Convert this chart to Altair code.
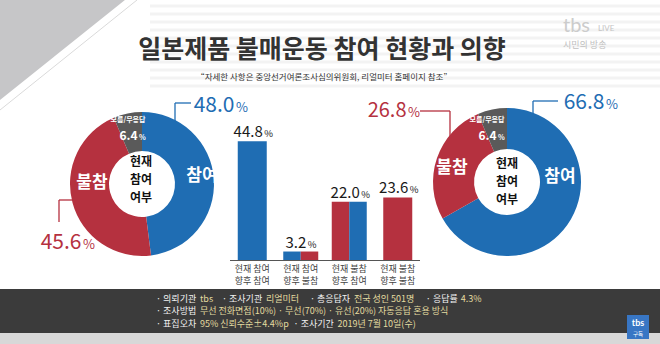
import altair as alt
import pandas as pd

FONT = "Noto Sans CJK KR"
BLUE = "#1f6db3"
RED = "#b5313f"
GRAY = "#5a5a5a"
YELLOW = "#e4dba0"

# ---------------- data ----------------
title_text = "일본제품 불매운동 참여 현황과 의향"
subtitle_text = "\u201c자세한 사항은 중앙선거여론조사심의위원회, 리얼미터 홈페이지 참조\u201d"

donut_cats = ["참여", "불참", "모름/무응답"]
donut_center = ["현재", "참여", "여부"]
left_vals = [48.0, 45.6, 6.4]     # 현재 참여 여부
right_vals = [66.8, 26.8, 6.4]    # 향후 참여 의향

bar_cats = ["현재 참여\n향후 참여", "현재 참여\n향후 불참", "현재 불참\n향후 참여", "현재 불참\n향후 불참"]
bar_vals = [44.8, 3.2, 22.0, 23.6]
bar_now = ["참여", "참여", "불참", "불참"]      # colour of left half
bar_future = ["참여", "불참", "참여", "불참"]   # colour of right half
bar_split = [False, True, True, False]

footer_lines = [
    [("· 의뢰기관", "w"), ("tbs", "y"), ("· 조사기관", "w"), ("리얼미터", "y"),
     ("· 총응답자", "w"), ("전국 성인 501명", "y"), ("· 응답률", "w"), ("4.3%", "y")],
    [("· 조사방법", "w"), ("무선 전화면접(10%) · 무선(70%) · 유선(20%) 자동응답 혼용 방식", "y")],
    [("· 표집오차", "w"), ("95% 신뢰수준±4.4%p", "y"), ("· 조사기간", "w"), ("2019년 7월 10일(수)", "y")],
]

# ---------------- helpers ----------------
base = alt.Chart(pd.DataFrame({"k": [0]}))


def txt(text, x, y, size, color, weight="normal", align="center", baseline="middle", font=FONT, **kw):
    return base.mark_text(text=text, fontSize=size, color=color, fontWeight=weight, align=align,
                          baseline=baseline, font=font, **kw).encode(x=alt.value(x), y=alt.value(y))


def rule(x1, y1, x2, y2, color, w=1.3, **kw):
    return base.mark_rule(color=color, strokeWidth=w, **kw).encode(
        x=alt.value(x1), y=alt.value(y1), x2=alt.value(x2), y2=alt.value(y2))


def rect(x1, y1, x2, y2, color):
    return base.mark_rect(color=color).encode(
        x=alt.value(x1), y=alt.value(y1), x2=alt.value(x2), y2=alt.value(y2))


def tw(s, size):
    w = 0.0
    for ch in s:
        if "\uac00" <= ch <= "\ud7a3":
            w += 1.0
        elif ch.isdigit():
            w += 0.553
        elif ch == " ":
            w += 0.224
        elif ch in ".,·":
            w += 0.27
        elif ch == "%":
            w += 0.87
        elif ch in "()":
            w += 0.33
        elif ch == "±":
            w += 0.55
        else:
            w += 0.52
    return w * size


cscale = alt.Scale(domain=donut_cats, range=[BLUE, RED, GRAY])

layers = []

# background decoration: gray triangle top-left
layers.append(rule(-159.3, 124.9, 309.3, -249.9, "#c6c6c8", w=160, clip=True))
layers.append(rule(137, 0, 0, 110, "#dadada", w=1, clip=True))
for yy in [6, 14, 22, 30, 38, 46, 54, 62, 70, 78, 86]:
    layers.append(rule(150, yy, 660, yy, "#f3f3f3", w=3, clip=True))

# title
layers.append(txt(title_text, 322, 50, 25, "#333333", weight="bold"))
layers.append(txt(subtitle_text, 324, 77, 8.5, "#333333"))

# tbs logo
layers.append(txt("tbs", 563, 26, 20, "#cccccc", align="left", font="Lato"))
layers.append(txt("LIVE", 598, 29, 8, "#c4c4c4", align="left", font="Lato"))
layers.append(txt("시민의 방송", 563, 45, 9, "#c0c0c0", align="left"))

# leader lines (drawn under donuts)
layers += [
    rule(175, 103, 175, 124, BLUE), rule(175, 103, 191, 103, BLUE),
    rule(76, 200, 59, 200, RED), rule(59, 200, 59, 222, RED),
    rule(533, 101, 533, 119, BLUE), rule(533, 101, 558, 101, BLUE),
    rule(420, 111, 450, 111, RED), rule(450, 111, 450, 141, RED),
]


def donut(vals, cx, cy, r_out, r_in):
    df = pd.DataFrame({"cat": donut_cats, "v": vals, "o": [0, 1, 2]})
    return alt.Chart(df).mark_arc(radius=r_out, radius2=r_in).encode(
        theta=alt.Theta("v:Q", stack=True),
        color=alt.Color("cat:N", scale=cscale, legend=None),
        order=alt.Order("o:Q"),
        x=alt.value(cx), y=alt.value(cy),
    )


layers.append(donut(left_vals, 142, 184, 72, 33))
layers.append(donut(right_vals, 507, 182, 74, 33))

# donut labels - left
layers += [
    txt(donut_cats[0], 202, 176, 17, "white", weight="bold"),
    txt(donut_cats[1], 92, 183, 17, "white", weight="bold"),
    txt(donut_cats[2], 128, 120, 7, "white", weight="bold"),
    txt(f"{left_vals[2]:.1f}", 137.5, 140, 12, "white", weight="bold", align="right", baseline="alphabetic"),
    txt("%", 139, 140, 7, "white", weight="bold", align="left", baseline="alphabetic"),
    txt(f"{left_vals[0]:.1f}", 234.5, 112, 21, BLUE, align="right", baseline="alphabetic"),
    txt("%", 236, 112, 13, BLUE, align="left", baseline="alphabetic"),
    txt(f"{left_vals[1]:.1f}", 81.5, 249, 21, RED, align="right", baseline="alphabetic"),
    txt("%", 83, 249, 13, RED, align="left", baseline="alphabetic"),
]
for s, yy in zip(donut_center, [162, 180, 198]):
    layers.append(txt(s, 141, yy, 12, "#111111", weight="bold"))
# donut labels - right
layers += [
    txt(donut_cats[0], 560, 177, 17, "white", weight="bold"),
    txt(donut_cats[1], 452, 168, 17, "white", weight="bold"),
    txt(donut_cats[2], 487, 120, 7, "white", weight="bold"),
    txt(f"{right_vals[2]:.1f}", 496.5, 140, 12, "white", weight="bold", align="right", baseline="alphabetic"),
    txt("%", 498, 140, 7, "white", weight="bold", align="left", baseline="alphabetic"),
    txt(f"{right_vals[0]:.1f}", 604.5, 109, 21, BLUE, align="right", baseline="alphabetic"),
    txt("%", 606, 109, 13, BLUE, align="left", baseline="alphabetic"),
    txt(f"{right_vals[1]:.1f}", 406.5, 117, 20, RED, align="right", baseline="alphabetic"),
    txt("%", 408, 117, 13, RED, align="left", baseline="alphabetic"),
]
for s, yy in zip(donut_center, [164, 182, 200]):
    layers.append(txt(s, 507, yy, 12, "#111111", weight="bold"))

# bars
bars_df = pd.DataFrame({"cat": bar_cats, "v": bar_vals, "lc": bar_now, "rc": bar_future,
                        "split": bar_split,
                        "l1": [c.split("\n")[0] for c in bar_cats],
                        "l2": [c.split("\n")[1] for c in bar_cats]})
xsc = alt.Scale(domain=bar_cats, range=[228, 422], paddingInner=0.28, paddingOuter=0.14)
ysc = alt.Scale(domain=[0, 50], range=[260, 127.5])
X = alt.X("cat:N", scale=xsc, axis=None, sort=bar_cats)
Y = alt.Y("v:Q", scale=ysc, axis=None)

layers.append(alt.Chart(bars_df).transform_filter("!datum.split").mark_bar(width=29).encode(
    X, Y, color=alt.Color("lc:N", scale=cscale, legend=None)))
layers.append(alt.Chart(bars_df).transform_filter("datum.split").mark_bar(width=17.5, xOffset=-8.75).encode(
    X, Y, color=alt.Color("lc:N", scale=cscale, legend=None)))
layers.append(alt.Chart(bars_df).transform_filter("datum.split").mark_bar(width=17.5, xOffset=8.75).encode(
    X, Y, color=alt.Color("rc:N", scale=cscale, legend=None)))

layers.append(rule(230, 260.5, 420, 260.5, "#555555", w=1))

for cond, off in [("datum.v >= 10", 10.5), ("datum.v < 10", 5.5)]:
    layers.append(alt.Chart(bars_df).transform_filter(cond).mark_text(
        align="right", baseline="alphabetic", dx=off, dy=-4, fontSize=15, font=FONT, color="#1a1a1a").encode(
        X, Y, text=alt.Text("v:Q", format=".1f")))
    layers.append(alt.Chart(bars_df).transform_filter(cond).mark_text(
        align="left", baseline="alphabetic", dx=off + 1.5, dy=-4, fontSize=9.5, font=FONT, color="#1a1a1a",
        text="%").encode(X, Y))

for fld, yy in [("l1", 269), ("l2", 280.5)]:
    layers.append(alt.Chart(bars_df).mark_text(
        baseline="middle", fontSize=9, font=FONT, color="#444444").encode(
        X, y=alt.value(yy), text=f"{fld}:N"))

# footer
layers.append(rect(0, 289, 660, 333, "#3b3b3b"))
layers.append(rect(0, 333, 660, 344, "#d8d8d8"))
FS = 9.0
for i, line in enumerate(footer_lines):
    y = [298.5, 311, 323.5][i]
    x = 156
    for s, kind in line:
        layers.append(txt(s, x, y, FS, "#f2f2f2" if kind == "w" else YELLOW, align="left"))
        x += tw(s, FS) + (3.5 if kind == "w" else 8)

layers.append(rect(627, 315, 649, 339, "#3876c4"))
layers.append(txt("tbs", 638, 322.5, 9, "white", weight="bold", font="Lato"))
layers.append(txt("구독", 638, 334, 5.5, "white"))

chart = alt.layer(*layers).properties(
    width=660, height=344, autosize="none", padding=0, background="white"
).configure_view(stroke=None)

chart.save("out.html", embed_options={"renderer": "svg", "actions": False})
